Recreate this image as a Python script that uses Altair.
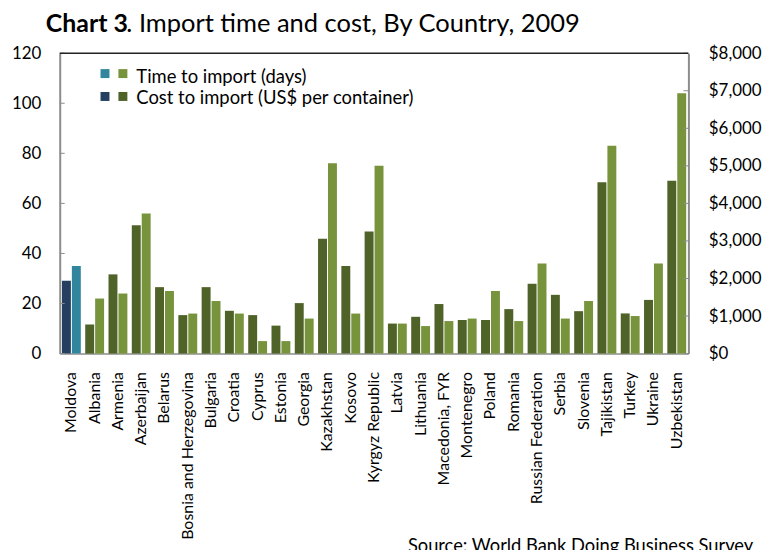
import altair as alt
import pandas as pd

countries = ["Moldova", "Albania", "Armenia", "Azerbaijan", "Belarus",
             "Bosnia and Herzegovina", "Bulgaria", "Croatia", "Cyprus", "Estonia",
             "Georgia", "Kazakhstan", "Kosovo", "Kyrgyz Republic", "Latvia",
             "Lithuania", "Macedonia, FYR", "Montenegro", "Poland", "Romania",
             "Russian Federation", "Serbia", "Slovenia", "Tajikistan", "Turkey",
             "Ukraine", "Uzbekistan"]
cost_usd = [1940, 775, 2110, 3420, 1770, 1025, 1770, 1140, 1025, 745,
            1345, 3060, 2330, 3250, 800, 980, 1320, 895, 895, 1185,
            1860, 1565, 1130, 4560, 1070, 1430, 4605]
time_days = [35, 22, 24, 56, 25, 16, 21, 16, 5, 5,
             14, 76, 16, 75, 12, 11, 13, 14, 25, 13,
             36, 14, 21, 83, 15, 36, 104]

days_ticks = [0, 20, 40, 60, 80, 100, 120]
cost_ticks = [0, 1000, 2000, 3000, 4000, 5000, 6000, 7000, 8000]

title_bold = "Chart 3"
title_rest = ". Import time and cost, By Country, 2009"
legend_time = "Time to import (days)"
legend_cost = "Cost to import (US$ per container)"
source_text = "Source:  World Bank Doing Business Survey"

NAVY = "#243F60"
TEAL = "#31859C"
DKGREEN = "#4F6228"
LTGREEN = "#77933C"
AXISGRAY = "#8c8c8c"
FONT = "Lato"

W, H = 632, 302

df = pd.DataFrame({"country": countries, "cost": cost_usd, "days": time_days})

x_enc = alt.X("country:N", sort=countries,
              scale=alt.Scale(paddingInner=0.19, paddingOuter=0.095),
              axis=alt.Axis(title=None, labelAngle=-90, labelAlign="right",
                            labelBaseline="middle", labelFontSize=16, labelFont=FONT,
                            labelColor="#000", labelPadding=18, ticks=False,
                            domainColor=AXISGRAY, domainWidth=1.5, labelLimit=300))
xoff = alt.XOffset("s:N", scale=alt.Scale(domain=["cost", "days"], paddingInner=0.1, paddingOuter=0))

cost_bars = alt.Chart(df).transform_calculate(s="'cost'").mark_bar().encode(
    x=x_enc,
    xOffset=xoff,
    y=alt.Y("cost:Q", scale=alt.Scale(domain=[0, 8000], nice=False),
            axis=alt.Axis(orient="right", title=None, values=cost_ticks, format="$,.0f",
                          grid=False, ticks=False, domainColor=AXISGRAY, domainWidth=2,
                          labelFontSize=17, labelFont=FONT, labelColor="#000",
                          labelPadding=20)),
    color=alt.condition("datum.country == 'Moldova'", alt.value(NAVY), alt.value(DKGREEN)),
)

time_bars = alt.Chart(df).transform_calculate(s="'days'").mark_bar().encode(
    x=x_enc,
    xOffset=xoff,
    y=alt.Y("days:Q", scale=alt.Scale(domain=[0, 120], nice=False),
            axis=alt.Axis(orient="left", title=None, values=days_ticks,
                          grid=False, ticks=False, domainColor=AXISGRAY, domainWidth=2,
                          labelFontSize=17, labelFont=FONT, labelColor="#000",
                          labelPadding=19)),
    color=alt.condition("datum.country == 'Moldova'", alt.value(TEAL), alt.value(LTGREEN)),
)

left_ticks = alt.Chart(pd.DataFrame({"v": days_ticks})).mark_rule(color=AXISGRAY, strokeWidth=1).encode(
    y=alt.Y("v:Q", scale=alt.Scale(domain=[0, 120], nice=False), axis=None),
    x=alt.value(0), x2=alt.value(5))
right_ticks = alt.Chart(pd.DataFrame({"v": cost_ticks})).mark_rule(color=AXISGRAY, strokeWidth=1).encode(
    y=alt.Y("v:Q", scale=alt.Scale(domain=[0, 8000], nice=False), axis=None),
    x=alt.value(W - 5), x2=alt.value(W))

top_line = alt.Chart(pd.DataFrame({"a": [0]})).mark_rule(color="#222", strokeWidth=1.5).encode(
    x=alt.value(0), x2=alt.value(W), y=alt.value(0))

one = pd.DataFrame({"a": [0]})

def sq(x0, y0, color):
    return alt.Chart(one).mark_rect(color=color).encode(
        x=alt.value(x0), x2=alt.value(x0 + 9), y=alt.value(y0), y2=alt.value(y0 + 9))

def txt(text, x0, y0, size, weight="normal", baseline="alphabetic"):
    return alt.Chart(pd.DataFrame({"t": [text]})).mark_text(
        align="left", baseline=baseline, font=FONT, fontSize=size, fontWeight=weight,
        color="#000").encode(text="t:N", x=alt.value(x0), y=alt.value(y0))

legend = alt.layer(
    sq(41, 16, TEAL), sq(59, 16, LTGREEN),
    sq(41, 39, NAVY), sq(59, 39, DKGREEN),
    txt(legend_time, 77, 30, 18.5),
    txt(legend_cost, 77, 51, 18.5),
)

titles = alt.layer(
    txt(title_bold, -14, -21, 25, "bold"),
    txt(title_rest, 67, -21, 25.6),
    txt(source_text, 350, 501, 18.4),
)

chart = alt.layer(
    time_bars, cost_bars, left_ticks, right_ticks, top_line, legend, titles
).resolve_scale(y="independent").properties(
    width=W, height=H,
    autosize=alt.AutoSizeParams(type="none"),
    padding={"left": 52, "top": 44, "right": 76, "bottom": 196},
).configure_view(stroke=None)

chart.save("out.html", embed_options={"renderer": "svg", "actions": False})
